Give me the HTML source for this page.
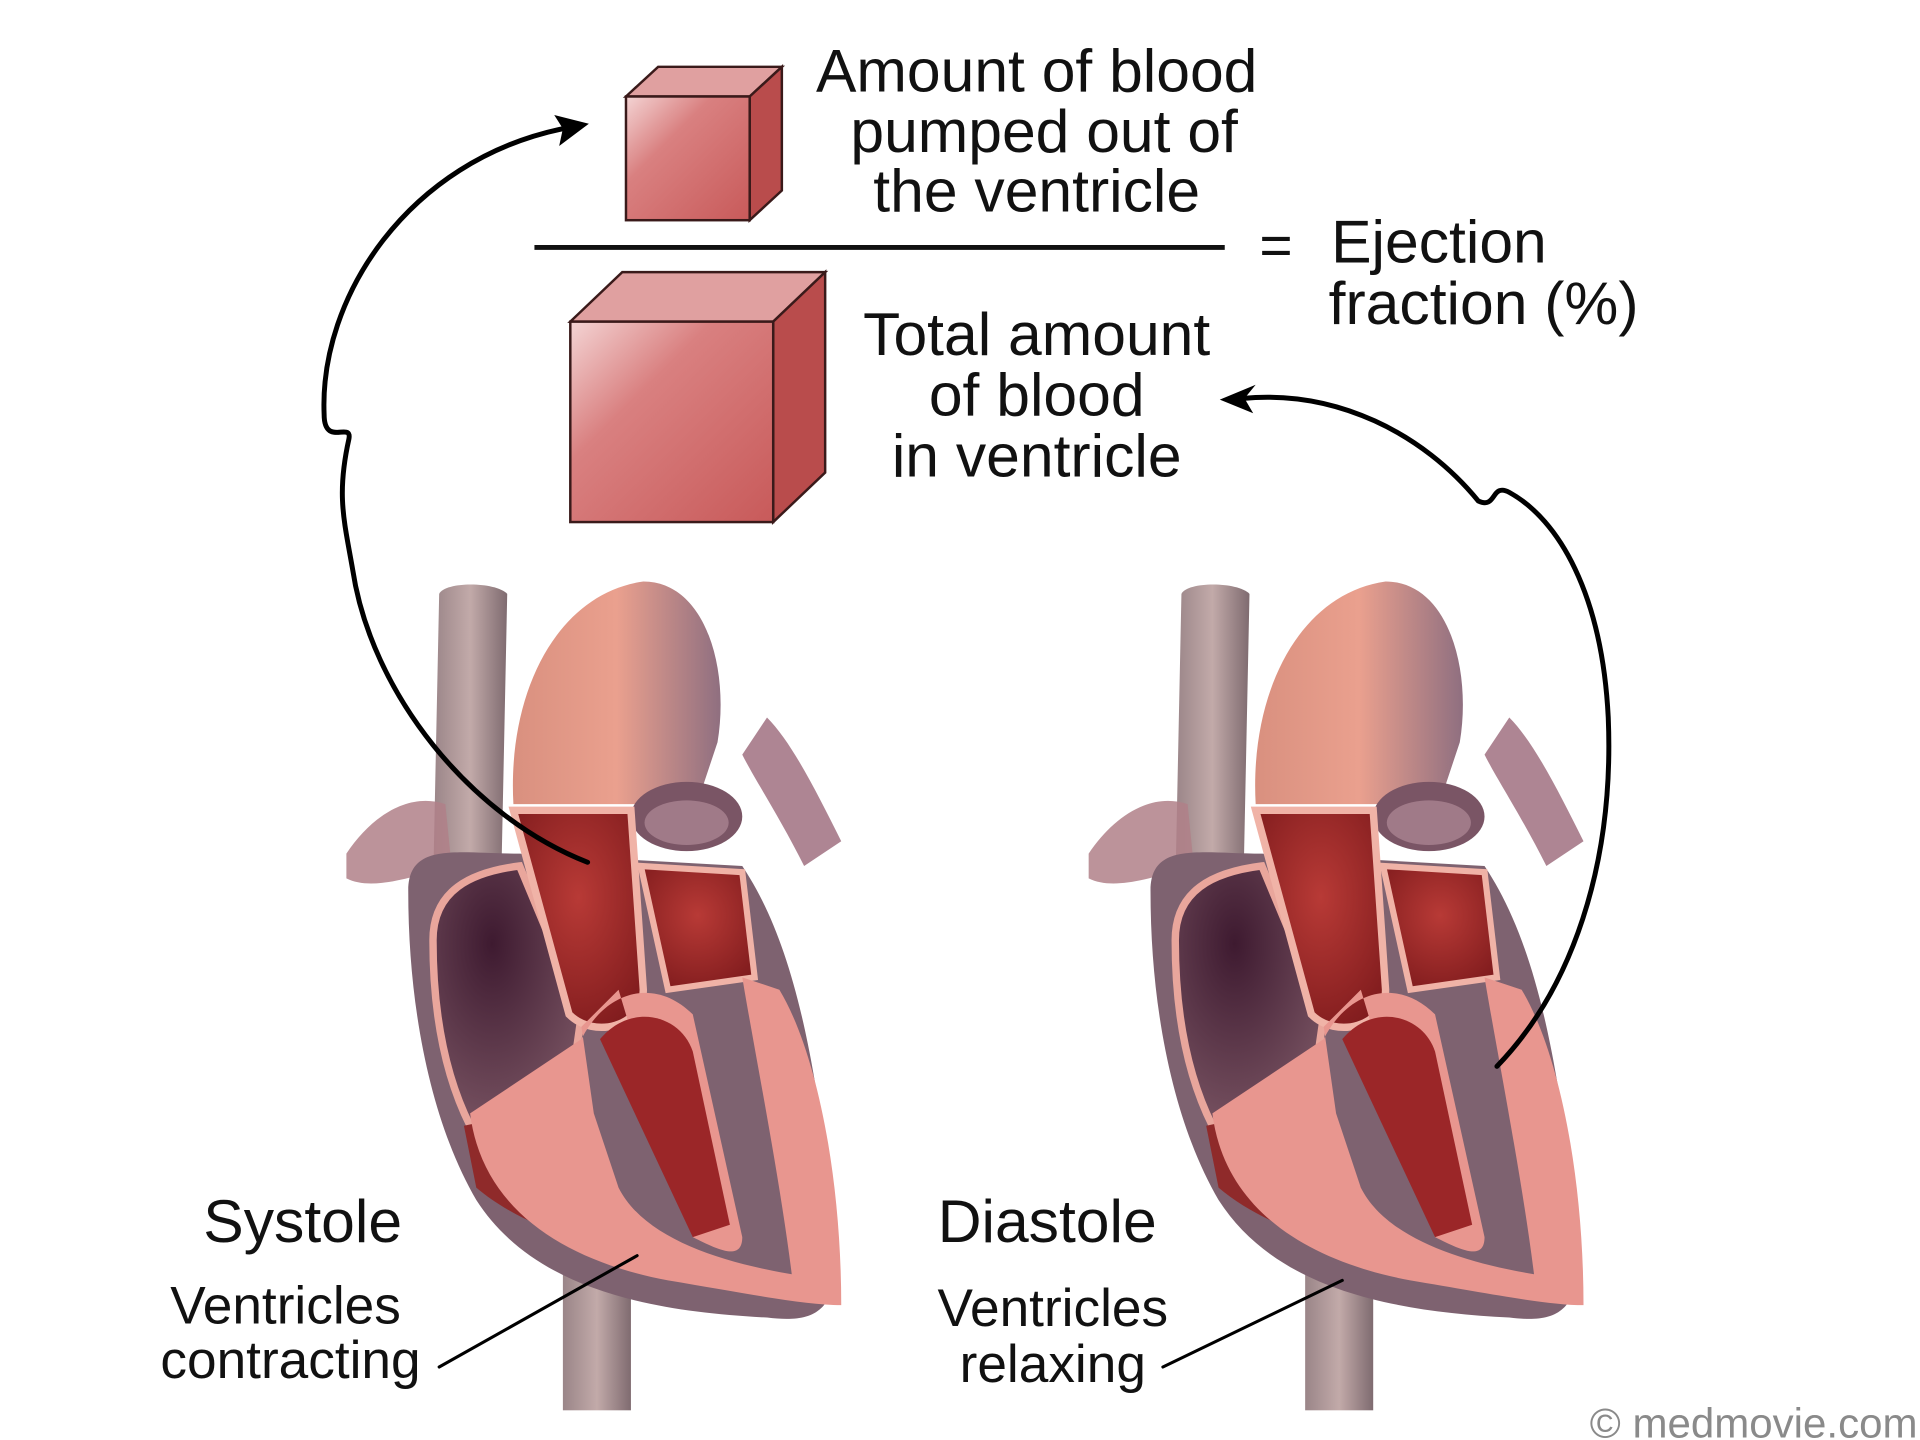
<!DOCTYPE html>
<html><head><meta charset="utf-8"><style>
html,body{margin:0;padding:0;background:#fff;}
svg{display:block;}
text{font-family:"Liberation Sans",Arial,sans-serif;fill:#111;}
</style></head><body>
<svg width="1920" height="1440" viewBox="0 0 1552 1164" xmlns="http://www.w3.org/2000/svg">
<defs>
<linearGradient id="cf" x1="0" y1="0" x2="1" y2="1"><stop offset="0" stop-color="#f4d4d4"/><stop offset="0.35" stop-color="#d98080"/><stop offset="1" stop-color="#c85a5a"/></linearGradient>
<linearGradient id="ao" x1="0" y1="0" x2="1" y2="0"><stop offset="0" stop-color="#d9907f"/><stop offset="0.5" stop-color="#eaa08e"/><stop offset="1" stop-color="#8f6f80"/></linearGradient>
<linearGradient id="vc" x1="0" y1="0" x2="1" y2="0"><stop offset="0" stop-color="#9a8588"/><stop offset="0.5" stop-color="#c2aaa9"/><stop offset="1" stop-color="#7f6b70"/></linearGradient>
<radialGradient id="ch" cx="0.5" cy="0.4" r="0.7"><stop offset="0" stop-color="#b83a36"/><stop offset="1" stop-color="#7d1a1c"/></radialGradient>
<radialGradient id="ra" cx="0.4" cy="0.3" r="0.8"><stop offset="0" stop-color="#3e1a30"/><stop offset="1" stop-color="#7d5866"/></radialGradient>
<g id="heart">
 <rect x="455" y="990" width="55" height="150" fill="url(#vc)"/>
 <path d="M355,480 C360,470 400,470 410,480 L405,720 L350,720 Z" fill="url(#vc)"/>
 <path d="M280,690 C300,660 330,640 360,650 L365,700 C330,710 300,720 280,710 Z" fill="#b08088" opacity="0.85"/>
 <path d="M620,580 C640,600 660,640 680,680 L650,700 C630,660 610,630 600,610 Z" fill="#a07080" opacity="0.85"/>
 <path d="M330,720 C330,680 370,690 420,690 L600,700 C640,760 660,850 675,1000 C680,1060 660,1070 620,1065 C520,1060 430,1040 385,970 C350,910 330,820 330,720 Z" fill="#7e6270"/>
 <path d="M415,650 C410,560 450,480 520,470 C570,470 590,540 580,600 L560,660 L520,650 Z" fill="url(#ao)"/>
 <ellipse cx="555" cy="660" rx="45" ry="28" fill="#7a5565"/>
 <ellipse cx="555" cy="665" rx="34" ry="18" fill="#a07a88"/>
 <path d="M350,760 C350,720 380,705 420,700 L470,820 L460,890 L380,910 C360,870 350,820 350,760 Z" fill="url(#ra)" stroke="#e9a69c" stroke-width="6"/>
 <path d="M415,655 L510,655 L520,800 C520,830 480,840 460,820 Z" fill="url(#ch)" stroke="#f0b3a7" stroke-width="6"/>
 <path d="M518,700 L600,705 L610,790 L540,800 Z" fill="url(#ch)" stroke="#f0b3a7" stroke-width="5"/>
 <path d="M375,910 L470,890 L500,960 L520,1010 C480,1010 420,990 385,960 Z" fill="#8f2a2a"/>
 <path d="M380,900 C390,980 460,1020 540,1035 C600,1045 650,1055 680,1055 C680,950 660,850 630,800 L600,790 C610,850 630,950 640,1030 C580,1020 520,1000 500,960 L480,900 L470,830 L500,800 L560,1000 C580,1010 600,1020 600,1000 L560,820 C530,790 490,800 470,840 Z" fill="#e8968f"/>
 <path d="M485,840 C510,810 550,820 560,850 L590,990 L560,1000 Z" fill="#9b2628"/>
</g>
</defs>
<g stroke="#3a1a1a" stroke-width="2">
 <path d="M506,78 L532,54 L632,54 L606,78 Z" fill="#e0a0a0"/>
 <path d="M606,78 L632,54 L632,154 L606,178 Z" fill="#b94c4c"/>
 <rect x="506" y="78" width="100" height="100" fill="url(#cf)"/>
 <path d="M461,260 L503,220 L667,220 L625,260 Z" fill="#e0a0a0"/>
 <path d="M625,260 L667,220 L667,382 L625,422 Z" fill="#b94c4c"/>
 <rect x="461" y="260" width="164" height="162" fill="url(#cf)"/>
</g>
<line x1="432" y1="200" x2="990" y2="200" stroke="#111" stroke-width="4"/>
<g font-size="49" text-anchor="middle">
 <text x="838" y="74">Amount of blood</text>
 <text x="844" y="123">pumped out of</text>
 <text x="838" y="171">the ventricle</text>
 <text x="838" y="287">Total amount</text>
 <text x="838" y="336">of blood</text>
 <text x="838" y="385">in ventricle</text>
</g>
<text x="1018" y="214" font-size="46">=</text>
<text x="1076" y="212" font-size="49">Ejection</text>
<text x="1074" y="262" font-size="49">fraction (%)</text>
<use href="#heart"/>
<use href="#heart" transform="translate(600,0)"/>
<g fill="none" stroke="#000" stroke-width="4" stroke-linecap="round">
 <path d="M475,697 C380,660 300,560 285,460 C278,420 272,400 282,355 C285,340 262,362 262,335 C258,240 330,130 455,104"/>
 <path d="M1210,862 C1270,800 1305,700 1300,580 C1295,480 1260,420 1220,398 C1205,390 1210,412 1195,405 C1150,350 1080,315 1005,322"/>
 <line x1="355" y1="1105" x2="515" y2="1015" stroke-width="2.5"/>
 <line x1="940" y1="1105" x2="1085" y2="1035" stroke-width="2.5"/>
</g>
<path d="M476,100 L448,93 L455,104 L452,118 Z" fill="#000"/>
<path d="M986,323 L1015,311 L1006,322 L1013,334 Z" fill="#000"/>
<g font-size="49">
 <text x="325" y="1004" text-anchor="end">Systole</text>
 <text x="758" y="1004">Diastole</text>
</g>
<g font-size="43">
 <text x="324" y="1070" text-anchor="end">Ventricles</text>
 <text x="340" y="1114" text-anchor="end">contracting</text>
 <text x="851" y="1072" text-anchor="middle">Ventricles</text>
 <text x="851" y="1117" text-anchor="middle">relaxing</text>
</g>
<text x="1550" y="1162" font-size="34" text-anchor="end" style="fill:#8a8a8a">© medmovie.com</text>
</svg>
</body></html>
